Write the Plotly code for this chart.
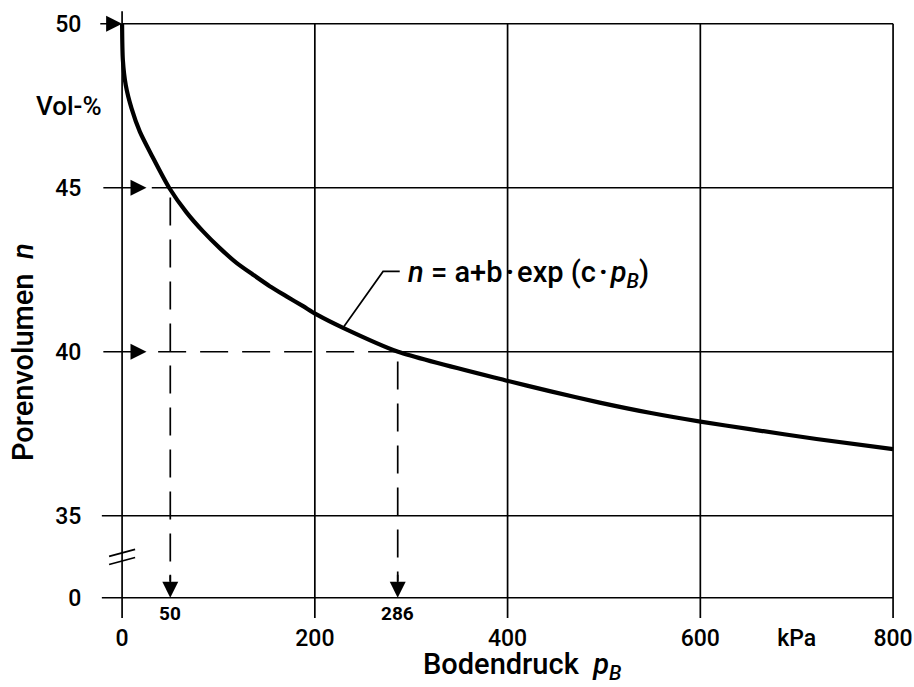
import plotly.graph_objects as go

# ---------------- data ----------------
p_curve = [0, 0.8, 3.8, 9.8, 18.4, 30.5, 48.8, 66.8, 84, 101.4, 118.7, 135.9,
           153.2, 170.6, 187.8, 201.7, 229.3, 286.4, 400.5, 443.7, 495.6, 547.4,
           600.1, 651.3, 720.5, 800]
n_curve = [50, 48.9, 48.13, 47.42, 46.71, 46.0, 45.0, 44.25, 43.67, 43.16, 42.71,
           42.35, 42.0, 41.69, 41.39, 41.14, 40.73, 40.0, 39.11, 38.8, 38.45, 38.14,
           37.87, 37.64, 37.34, 37.03]

x_ticks = [0, 200, 400, 600, 700, 800]
x_ticktext = ["0", "200", "400", "600", "kPa", "800"]
y_ticks = [32.5, 35, 40, 45, 50]          # 32.5 is the broken-axis position of "0"
y_ticktext = ["0", "35", "40", "45", "50"]
y_zero = 32.5

marked_p = [50, 286]       # read-off pressures
marked_n = [45, 40]        # corresponding pore volumes
n_start = 50               # start value (arrow at the axis)

# ---------------- geometry / style ----------------
X0, X1 = -25, 802
Y0, Y1 = 31.7, 50.45
FONT = "Roboto"
FW = 500
LW = 1.7
BLACK = "#000"
DASH = "28px,14px"
HS = "\u200a"  # hair space

def fnt(size, weight=FW):
    return dict(family=FONT, size=size, color=BLACK, weight=weight)

fig = go.Figure()

fig.add_trace(go.Scatter(
    x=p_curve, y=n_curve, mode="lines",
    line=dict(color=BLACK, width=4.2, shape="spline", smoothing=0.7),
    hoverinfo="skip", showlegend=False))

shapes = []
def line(x0, y0, x1, y1, dash="solid", w=LW):
    shapes.append(dict(type="line", xref="x", yref="y", x0=x0, y0=y0, x1=x1, y1=y1,
                       line=dict(color=BLACK, width=w, dash=dash), layer="above"))

# horizontal grid lines
line(0, 50, 800, 50)
line(30.8, 45, 800, 45)
line(37.4, 40, 286, 40, dash=DASH)
line(286, 40, 800, 40)
line(-21, 35, 800, 35)
line(-21, y_zero, 800, y_zero)
# vertical lines
line(0, 31.88, 0, 50.38)
for xv in [200, 400, 600, 800]:
    line(xv, 31.88, xv, 50)
# dashed read-off verticals
line(marked_p[0], marked_n[0] - 0.3, marked_p[0], y_zero + 0.5, dash=DASH)
line(marked_p[1], marked_n[1] - 0.3, marked_p[1], y_zero + 0.5, dash=DASH)
# axis break marks
for yb in [33.87, 33.62]:
    shapes.append(dict(type="line", xref="x", yref="y", xsizemode="pixel", ysizemode="pixel",
                       xanchor=0, yanchor=yb, x0=-13, x1=13, y0=-3.5, y1=3.5,
                       line=dict(color=BLACK, width=LW), layer="above"))
# leader line to formula
shapes.append(dict(type="path", xref="x", yref="y",
                   path="M 229.3 40.73 L 270.8 42.45 L 288.1 42.45",
                   line=dict(color=BLACK, width=LW), layer="above"))

annotations = []
def arrow(x, y, ax, ay):
    annotations.append(dict(x=x, y=y, ax=ax, ay=ay, xref="x", yref="y", axref="x", ayref="y",
                            text="", showarrow=True, arrowhead=2, arrowsize=1.88,
                            arrowwidth=LW, arrowcolor=BLACK, standoff=0, startstandoff=0))

arrow(0, n_start, -24.2, n_start)
arrow(25.3, marked_n[0], -21, marked_n[0])
arrow(25.3, marked_n[1], -21, marked_n[1])
arrow(marked_p[0], y_zero, marked_p[0], y_zero + 0.75)
arrow(marked_p[1], y_zero, marked_p[1], y_zero + 0.75)

for pv in marked_p:
    annotations.append(dict(x=pv, y=y_zero, xref="x", yref="y", text=f"{pv}",
                            showarrow=False, yshift=-16, font=fnt(19, 700)))

annotations.append(dict(x=0, y=47.48, xref="paper", yref="y", xanchor="right", xshift=6,
                        text="Vol-%", showarrow=False, font=fnt(26)))
annotations.append(dict(x=0, y=40, xref="paper", yref="y", xanchor="center", yanchor="middle",
                        xshift=-75.7, textangle=-90,
                        text="Porenvolumen  <i>n</i>", showarrow=False, font=fnt(29)))
annotations.append(dict(x=414.7, y=0, xref="x", yref="paper", yshift=-42,
                        xanchor="center", yanchor="middle",
                        text="Bodendruck  <i>p<sub>B</sub></i>", showarrow=False, font=fnt(29)))
annotations.append(dict(x=294.4, y=42.37, xref="x", yref="y", xanchor="left",
                        text=f"<i>n</i> = a+b{HS}<b>·</b>{HS}exp (c{HS}<b>·</b>{HS}<i>p<sub>B</sub></i>)",
                        showarrow=False, font=fnt(29)))

fig.update_layout(
    template="none",
    width=914, height=687,
    margin=dict(l=98.2, r=18.7, t=8.6, b=63.1, pad=0),
    paper_bgcolor="white", plot_bgcolor="white",
    shapes=shapes, annotations=annotations,
    xaxis=dict(range=[X0, X1], showgrid=False, zeroline=False, showline=False, automargin=False,
               tickvals=x_ticks, ticktext=x_ticktext, ticks="outside", ticklen=2,
               ticklabelstandoff=-9,
               tickcolor="rgba(0,0,0,0)", tickfont=fnt(23)),
    yaxis=dict(range=[Y0, Y1], showgrid=False, zeroline=False, showline=False, automargin=False,
               tickvals=y_ticks, ticktext=y_ticktext, ticks="outside", ticklen=6,
               ticklabelstandoff=5,
               tickcolor="rgba(0,0,0,0)", tickfont=fnt(23)),
)

fig.write_html("out.html", config={"displayModeBar": False},
               post_script="document.body.style.margin='0px';")
